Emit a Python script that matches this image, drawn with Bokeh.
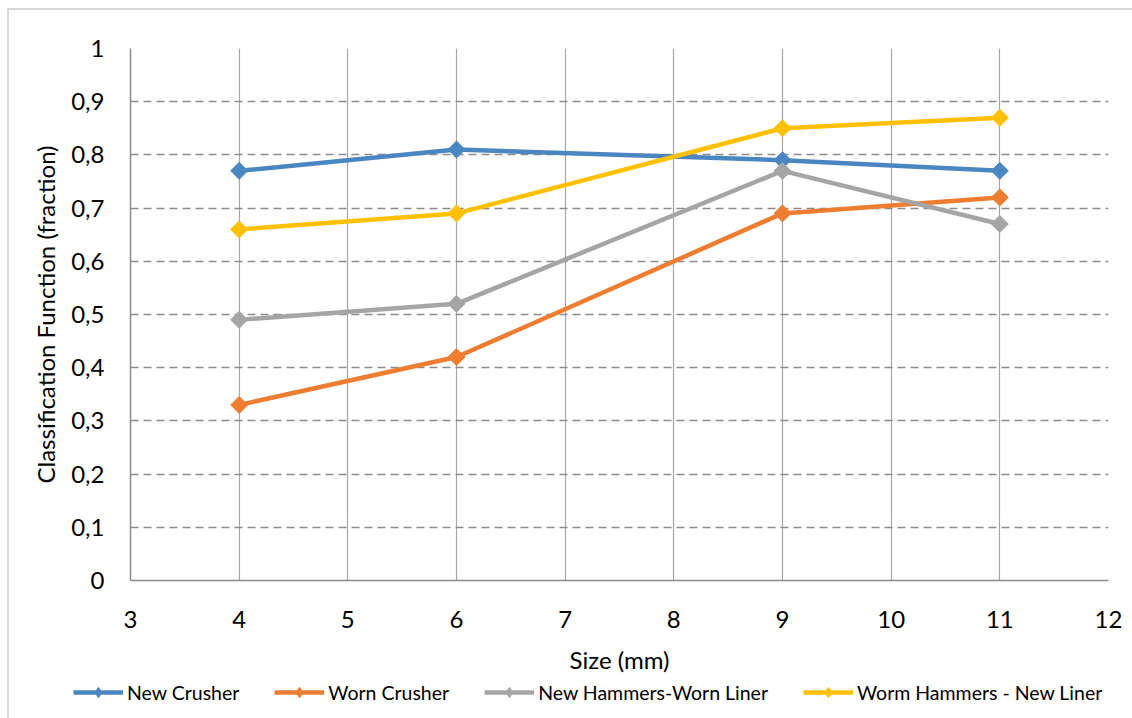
import numpy as np
from bokeh.plotting import figure
from bokeh.layouts import column
from bokeh.models import Range1d, FixedTicker, Legend, LegendItem
from bokeh.embed import file_html
from bokeh.resources import INLINE

# Particle size classes (mm)
sizes = [4, 6, 9, 11]

# Classification function values per configuration
new_crusher = [0.77, 0.81, 0.79, 0.77]
worn_crusher = [0.33, 0.42, 0.69, 0.72]
new_hammers_worn_liner = [0.49, 0.52, 0.77, 0.67]
worm_hammers_new_liner = [0.66, 0.69, 0.85, 0.87]

series_names = ["New Crusher", "Worn Crusher", "New Hammers-Worn Liner", "Worm Hammers - New Liner"]
series_values = [new_crusher, worn_crusher, new_hammers_worn_liner, worm_hammers_new_liner]
series_colors = ["#4A86C0", "#ED7D31", "#A5A5A5", "#FFC000"]

x_ticks = [3, 4, 5, 6, 7, 8, 9, 10, 11, 12]
y_ticks = [0, 0.1, 0.2, 0.3, 0.4, 0.5, 0.6, 0.7, 0.8, 0.9, 1]
y_tick_labels = ["0", "0,1", "0,2", "0,3", "0,4", "0,5", "0,6", "0,7", "0,8", "0,9", "1"]

FONT = "Lato"
LINE_W = 4.5
MARKER_SIZE = 12

p = figure(
    width=1123, height=668,
    x_range=Range1d(3, 12), y_range=Range1d(0, 1),
    output_backend="svg", toolbar_location=None,
    min_border_left=121, min_border_right=24, min_border_top=38, min_border_bottom=98,
    background_fill_color="white", border_fill_color="white",
)
p.outline_line_color = None
p.frame_align = False

# Grid: solid verticals, dashed horizontals
p.xgrid.ticker = FixedTicker(ticks=x_ticks)
p.xgrid.grid_line_color = "#A6A6A6"
p.xgrid.grid_line_width = 1.2
p.ygrid.ticker = FixedTicker(ticks=y_ticks)
p.ygrid.grid_line_color = "#8C8C8C"
p.ygrid.grid_line_width = 1.3
p.ygrid.grid_line_dash = "8 5"

for ax, ticks in ((p.xaxis[0], x_ticks), (p.yaxis[0], y_ticks)):
    ax.ticker = FixedTicker(ticks=ticks)
    ax.axis_line_color = "#8C8C8C"
    ax.axis_line_width = 1.5
    ax.major_tick_line_color = None
    ax.minor_tick_line_color = None
    ax.major_label_text_font = FONT
    ax.major_label_text_font_size = "24px"
    ax.major_label_text_color = "#000000"
    ax.axis_label_text_font = FONT
    ax.axis_label_text_font_size = "24px"
    ax.axis_label_text_font_style = "normal"
    ax.axis_label_text_color = "#000000"

p.yaxis[0].major_label_overrides = dict(zip(y_ticks, y_tick_labels))
p.yaxis[0].major_label_standoff = 20
p.xaxis[0].major_label_standoff = 24
p.xaxis[0].axis_label = "Size (mm)"
p.yaxis[0].axis_label = "Classification Function (fraction)"
p.xaxis[0].axis_label_standoff = 14
p.yaxis[0].axis_label_standoff = 8

for vals, color in zip(series_values, series_colors):
    p.line(sizes, vals, line_color=color, line_width=LINE_W)
    p.scatter(sizes, vals, marker="square", angle=np.pi / 4, size=MARKER_SIZE,
              fill_color=color, line_color=color)

# Legend strip underneath the chart; its entries use hidden copies of the series
leg = figure(
    width=1123, height=40,
    x_range=Range1d(3, 12), y_range=Range1d(0, 1),
    output_backend="svg", toolbar_location=None,
    x_axis_location=None, y_axis_location=None,
    min_border=0, background_fill_color="white", border_fill_color="white",
)
leg.outline_line_color = None
leg.grid.visible = False
leg.frame_align = False

items = []
for name, vals, color in zip(series_names, series_values, series_colors):
    ln = leg.line(sizes, vals, line_color=color, line_width=LINE_W, visible=False)
    mk = leg.scatter(sizes, vals, marker="diamond", size=MARKER_SIZE,
                     fill_color=color, line_color=color, visible=False)
    items.append(LegendItem(label=name, renderers=[ln, mk]))

legend = Legend(items=items, orientation="horizontal", location=(64, 13))
legend.label_text_font = FONT
legend.label_text_font_size = "19.5px"
legend.label_text_color = "#000000"
legend.glyph_width = 50
legend.glyph_height = 26
legend.label_standoff = 4
legend.spacing = 35
legend.padding = 0
legend.margin = 0
legend.border_line_color = None
legend.background_fill_alpha = 0
legend.inactive_fill_alpha = 0
leg.add_layout(legend, "center")

root = column(p, leg, spacing=0)
root.styles = {"border-left": "2px solid #D9D9D9", "border-top": "2px solid #D9D9D9",
               "margin-left": "7px", "margin-top": "8px"}

open("out.html", "w").write(file_html(root, INLINE))
